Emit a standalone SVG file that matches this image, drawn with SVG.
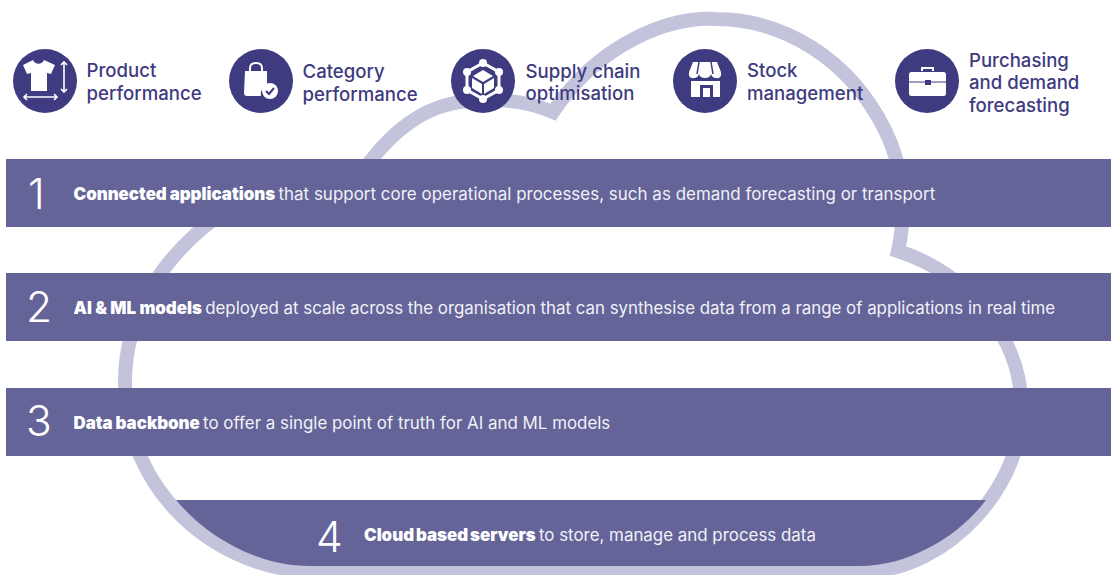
<svg xmlns="http://www.w3.org/2000/svg" width="1111" height="575" viewBox="0 0 1111 575">
<style>
.lab{font:500 18.6px Inter,"Liberation Sans",sans-serif;fill:#3e3b80}
.bar{fill:#646499}
.num{font:300 42.5px Inter,"Liberation Sans",sans-serif;fill:#fff}
.txt{font:400 16.9px Inter,"Liberation Sans",sans-serif;fill:#f1f1f7}
.txt .b{font-weight:900;fill:#fff;word-spacing:-.5px}
.disc{fill:#3e3b80}
.ic{fill:#fff}
.il{fill:none;stroke:#fff;stroke-width:1.6}
.il2{fill:none;stroke:#fff;stroke-width:3}
</style>
<g id="cloud"><path d="M553 112C520 98 480 97 450 104C420 111 395 130 372 159L362 172L230 208C158 255 125 320 125 382C125 490 215 572 320 572L860 572C950 572 1028 480 1021 400C1019 340 972 275 898 251C906 215 905 170 885 130C850 60 785 19 715 19C670 17 600 42 553 112Z" fill="none" stroke="#c3c4dc" stroke-width="14" stroke-miterlimit="8"/></g>
<g id="bar1"><rect class="bar" x="6" y="159" width="1105" height="68"/><text class="num" x="28" y="209">1</text><text class="txt" x="73.5" y="199.5"><tspan class="b">Connected applications</tspan><tspan dx="3"> </tspan><tspan dx="-4.5" style="letter-spacing:.04px">that support core operational processes, such as demand forecasting or transport</tspan></text></g>
<g id="bar2"><rect class="bar" x="6" y="273" width="1105" height="68"/><text class="num" x="26" y="322">2</text><text class="txt" x="73.5" y="313.5"><tspan class="b" style="word-spacing:0">AI &amp; ML models</tspan><tspan dx="3"> </tspan><tspan dx="-4.5" style="letter-spacing:-.02px">deployed at scale across the organisation that can synthesise data from a range of applications in real time</tspan></text></g>
<g id="bar3"><rect class="bar" x="6" y="388" width="1105" height="68"/><text class="num" x="26" y="435.5">3</text><text class="txt" x="73.5" y="428.5"><tspan class="b">Data backbone</tspan><tspan dx="3"> </tspan><tspan dx="-4.5">to offer a single point of truth for AI and ML models</tspan></text></g>
<g id="bar4"><path class="bar" d="M176 500H986C960 535 910 566 860 566H310C255 566 205 535 176 500Z"/><text class="num" x="316" y="551.5">4</text><text class="txt" x="364" y="541"><tspan class="b" style="word-spacing:-1.5px">Cloud based servers</tspan><tspan dx="3"> </tspan><tspan dx="-4.5">to store, manage and process data</tspan></text></g>
<g id="product"><circle class="disc" cx="45" cy="81" r="32"/>
<path class="ic" d="M33 60C35 65 42 65 44 60L55 65L51 74L47 73V91H31V73L27 74L23 65Z"/>
<path class="il" d="M64 62V92M61 65L64 62L67 65M61 89L64 92L67 89M24 97H57M27 94L24 97L27 100M54 94L57 97L54 100"/>
<text class="lab" x="86.5" y="77">Product</text><text class="lab" x="86.5" y="100">performance</text></g>
<g id="category"><circle class="disc" cx="261" cy="81" r="32"/>
<path class="ic" d="M245 71H267V85C262 88 260 92 261 96H247Q244 96 244 93Z"/>
<path d="M250 74V68Q250 63 256 63Q262 63 262 68V74" fill="none" stroke="#fff" stroke-width="2"/>
<circle cx="270" cy="91" r="8" fill="#fff"/><path d="M266 91L269 94L274 88" fill="none" stroke="#3e3b80" stroke-width="2"/>
<text class="lab" x="302.5" y="78">Category</text><text class="lab" x="302.5" y="101">performance</text></g>
<g id="supply"><circle class="disc" cx="483" cy="81" r="32"/>
<path class="il2" d="M483 63L499 72V90L483 99L467 90V72Z"/>
<g class="ic"><circle cx="483" cy="63" r="4"/><circle cx="499" cy="72" r="4"/><circle cx="499" cy="90" r="4"/><circle cx="483" cy="99" r="4"/><circle cx="467" cy="90" r="4"/><circle cx="467" cy="72" r="4"/><path d="M483 70L493 76L483 82L473 76ZM472 78L482 84V94L472 88ZM494 78V88L484 94V84Z"/></g>
<text class="lab" x="525.5" y="78">Supply chain</text><text class="lab" x="525.5" y="100">optimisation</text></g>
<g id="stock"><circle class="disc" cx="705" cy="81" r="32"/>
<path class="ic" d="M693 62H717L721 72Q722 79 716 78Q712 78 711 74Q710 78 705 78Q700 78 699 74Q698 78 694 78Q688 79 689 72ZM691 81H720V97H691Z"/>
<path d="M699 62L697 74M711 62L713 74" stroke="#3e3b80" stroke-width="1.5"/><rect x="700" y="85" width="13" height="12" fill="#3e3b80"/><rect x="703" y="88" width="7" height="9" fill="#fff"/>
<text class="lab" x="747" y="77">Stock</text><text class="lab" x="747" y="100">management</text></g>
<g id="purchasing"><circle class="disc" cx="927" cy="81" r="32"/>
<rect class="ic" x="909" y="72" width="37" height="24" rx="2.5"/><path d="M909 82H946" stroke="#3e3b80" stroke-width="1"/><rect x="925" y="80" width="6" height="5" fill="#3e3b80"/>
<path d="M922 71V68H933V71" fill="none" stroke="#fff" stroke-width="2"/>
<text class="lab" x="969" y="67">Purchasing</text><text class="lab" x="969" y="89">and demand</text><text class="lab" x="969" y="112">forecasting</text></g>
</svg>
